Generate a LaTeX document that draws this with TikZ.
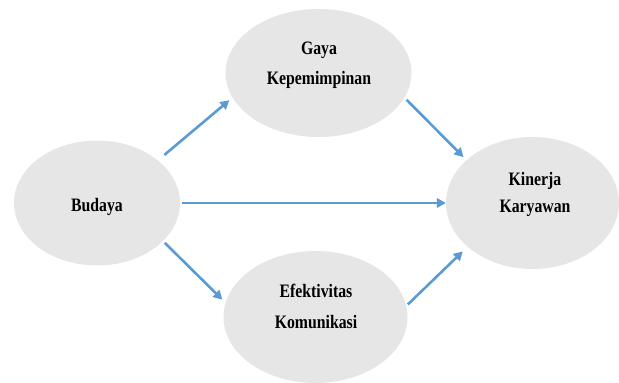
\documentclass[tikz,border=0pt]{standalone}
\usepackage{fontspec}
\newfontfamily\lblfont{Liberation Serif}[FakeStretch=0.83]
\usetikzlibrary{arrows.meta,shapes.geometric}
\definecolor{ellfill}{HTML}{E6E6E6}
\definecolor{arrblue}{HTML}{5B9BD5}
\begin{document}
\begin{tikzpicture}[x=1pt,y=-1pt,
  ell/.style={ellipse, fill=ellfill, draw=none, inner sep=0pt},
  lbl/.style={font=\lblfont\bfseries\fontsize{19}{#1}\selectfont, align=center, inner sep=0pt, text=black},
  lbl/.default=29,
  arr/.style={draw=arrblue, line width=2.6pt, -{Triangle[length=9pt,width=9.5pt]}}
]
\useasboundingbox (0,0) rectangle (619,383);
% ellipses
\node[ell, minimum width=166pt, minimum height=125pt] (bud) at (97,203) {};
\node[ell, minimum width=186pt, minimum height=128pt] (gaya) at (318.5,73) {};
\node[ell, minimum width=173pt, minimum height=132pt] (kin) at (532.5,203) {};
\node[ell, minimum width=184pt, minimum height=132pt] (efe) at (315.5,317) {};
% labels
\node[lbl, anchor=base] (budt) at (97,211.7) {Budaya};
\node[lbl=29.3] (gayat) at (319,65.3) {Gaya\\Kepemimpinan};
\node[lbl=27] (kint) at (535,194.2) {Kinerja\\Karyawan};
\node[lbl=31] (efet) at (316,306.8) {Efektivitas\\Komunikasi};
% arrows
\draw[arr, shorten <=8.4pt, shorten >=4pt] (bud.35.6) -- (gaya.196);
\draw[arr, shorten <=3pt, shorten >=4.2pt] (gaya.-16.4) -- (kin.147.1);
\draw[arr, shorten <=2pt, shorten >=0pt] (bud.0) -- (kin.180);
\draw[arr, shorten <=2.5pt, shorten >=4.4pt] (bud.-30.8) -- (efe.171.6);
\draw[arr, shorten <=2pt, shorten >=6.6pt] (efe.7.4) -- (kin.214.6);
\end{tikzpicture}
\end{document}
